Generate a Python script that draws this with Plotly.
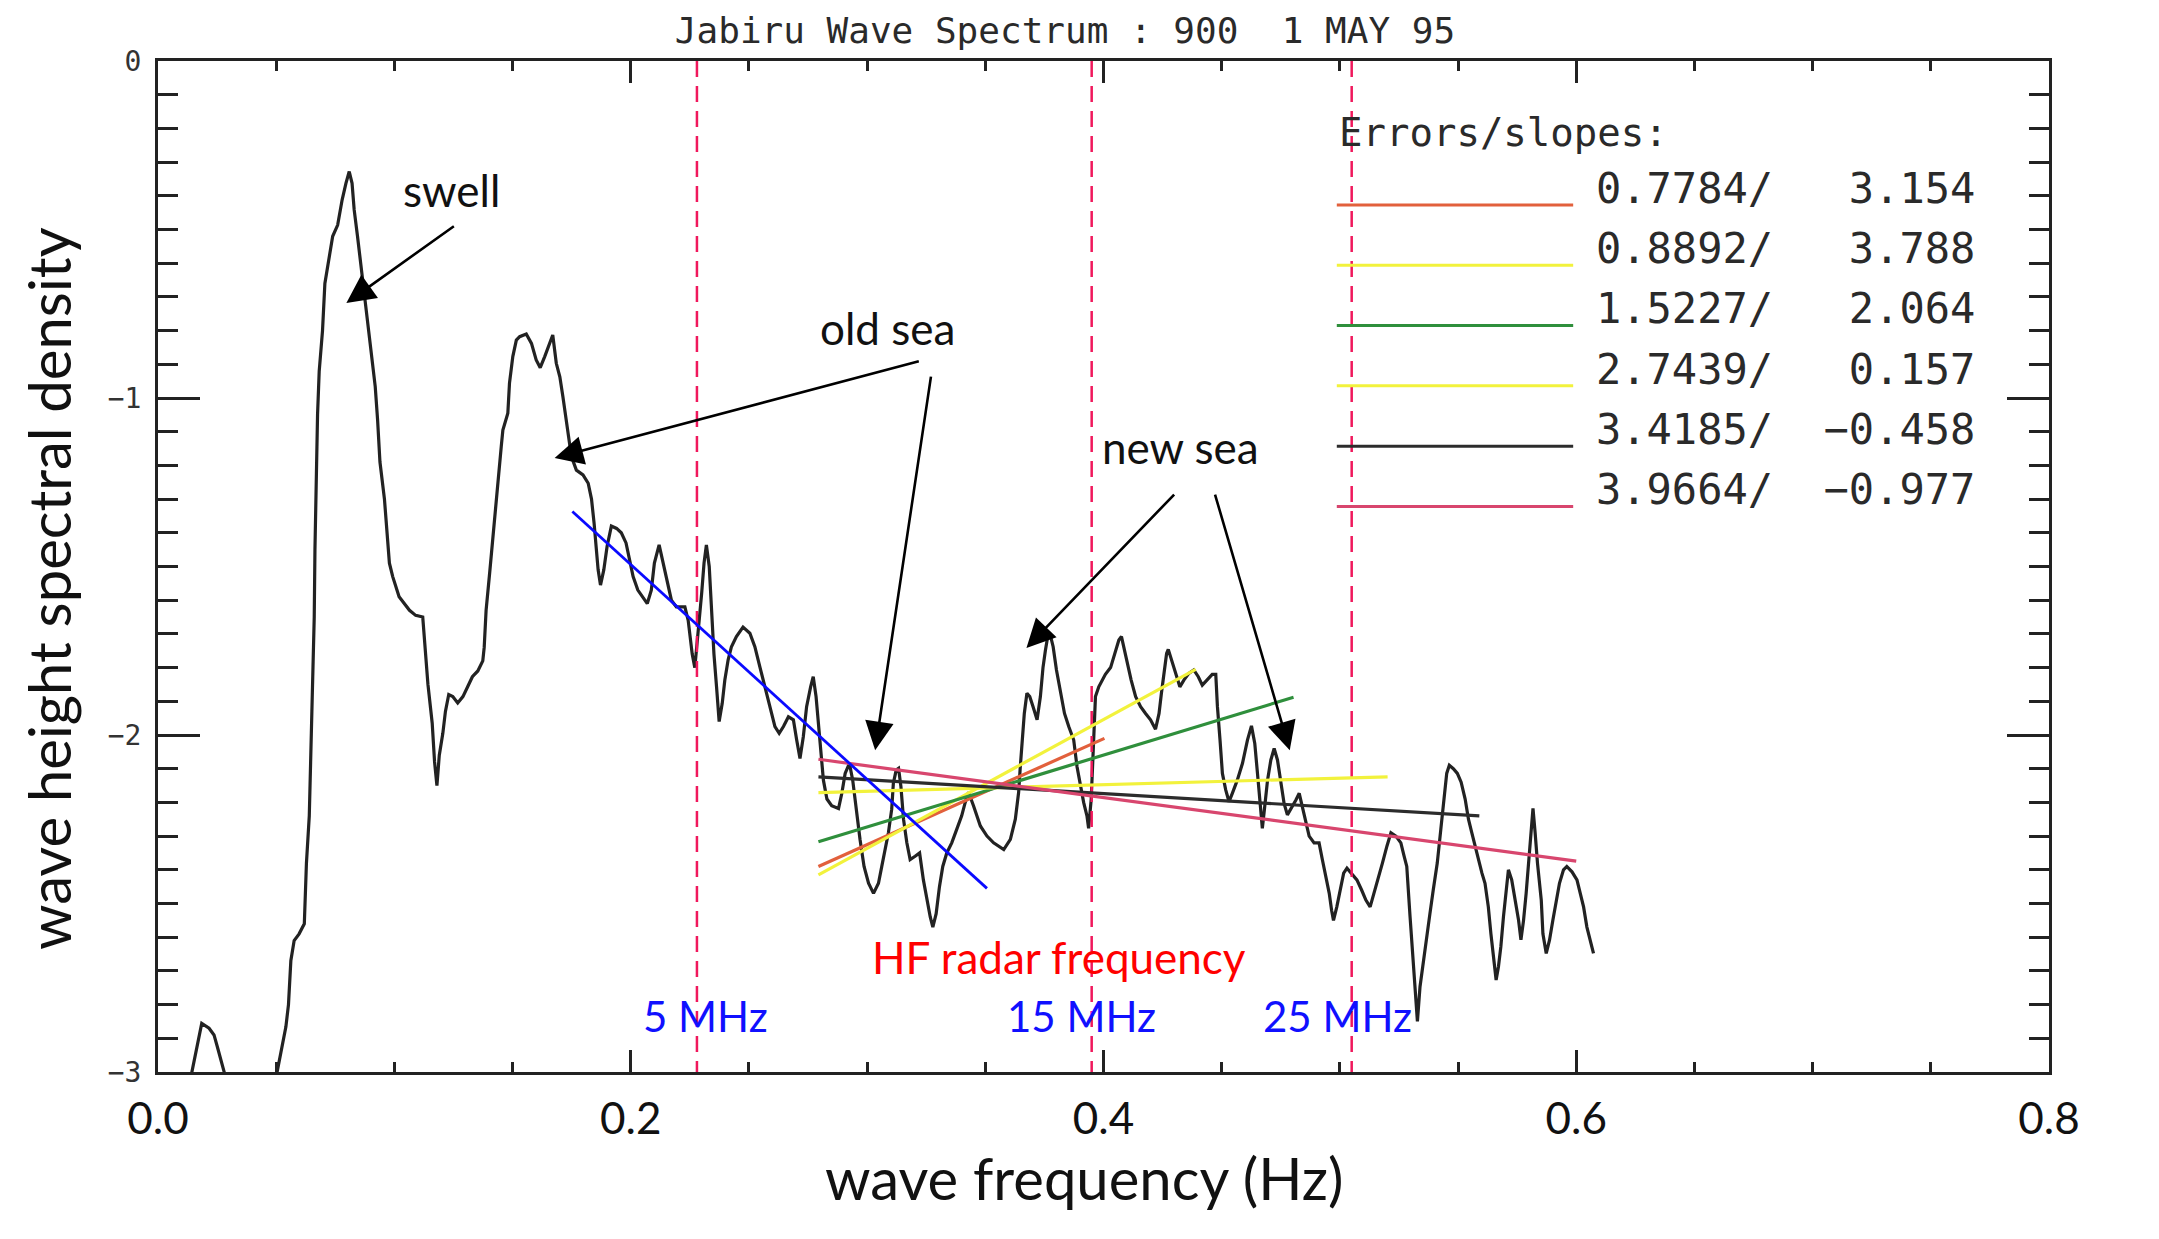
import plotly.graph_objects as go

# ---------------- data ----------------
freq = [0.010, 0.0146, 0.0168, 0.0185, 0.0216, 0.0237, 0.0251, 0.0265, 0.028, 0.032, 0.045, 0.049,
        0.0506, 0.0524, 0.0541, 0.0552, 0.0562, 0.0576, 0.0597, 0.0619, 0.0628, 0.0640, 0.0647, 0.0654,
        0.0661, 0.0664, 0.0668, 0.0675, 0.0682, 0.0696, 0.0706, 0.0725, 0.0739, 0.0760, 0.0779, 0.0795,
        0.0809, 0.0821, 0.0830, 0.0844, 0.0859, 0.0873, 0.0887, 0.0901, 0.0919, 0.0929, 0.0939, 0.0958,
        0.0972, 0.0979, 0.0993, 0.1020, 0.1064, 0.1090, 0.1120, 0.1127, 0.1142, 0.1160, 0.1170, 0.1180,
        0.1190, 0.1205, 0.1216, 0.1230, 0.1247, 0.1268, 0.1290, 0.1310, 0.1330, 0.1353, 0.1374, 0.1380,
        0.1388, 0.1403, 0.1417, 0.1430, 0.1442, 0.1452, 0.1459, 0.1480, 0.1487, 0.1501, 0.1516, 0.1530,
        0.1558, 0.1580, 0.1600, 0.1617, 0.1636, 0.1657, 0.1670, 0.1685, 0.1700, 0.1713, 0.1725, 0.1735,
        0.1749, 0.1770, 0.1798, 0.1820, 0.1834, 0.1845, 0.1855, 0.1862, 0.1872, 0.1886, 0.1900, 0.1918,
        0.1940, 0.1960, 0.1980, 0.1996, 0.2010, 0.2030, 0.2050, 0.2070, 0.2087, 0.2100, 0.2120, 0.2137,
        0.2151, 0.2172, 0.2193, 0.2229, 0.2243, 0.2250, 0.2260, 0.2271, 0.2278, 0.2290, 0.2300, 0.2310,
        0.2320, 0.2332, 0.2342, 0.2352, 0.2363, 0.2374, 0.2387, 0.2398, 0.2412, 0.2426, 0.2447, 0.2475,
        0.2504, 0.2525, 0.2547, 0.2568, 0.2589, 0.2610, 0.2628, 0.2646, 0.2667, 0.2688, 0.2702, 0.2716,
        0.2730, 0.2744, 0.2761, 0.2772, 0.2784, 0.2794, 0.2804, 0.2815, 0.2830, 0.2850, 0.2879, 0.2893,
        0.2907, 0.2925, 0.2939, 0.2956, 0.2970, 0.2987, 0.3006, 0.3027, 0.3048, 0.3062, 0.3076, 0.3090,
        0.3104, 0.3111, 0.3123, 0.3133, 0.3143, 0.3154, 0.3168, 0.3182, 0.3203, 0.3222, 0.3238, 0.3253,
        0.3267, 0.3278, 0.3292, 0.3306, 0.3320, 0.3337, 0.3358, 0.3379, 0.3400, 0.3415, 0.3429, 0.3450,
        0.3479, 0.3507, 0.3535, 0.3578, 0.3606, 0.3627, 0.3641, 0.3648, 0.3655, 0.3665, 0.3676, 0.3688,
        0.3702, 0.3719, 0.3733, 0.3744, 0.3754, 0.3764, 0.3773, 0.3787, 0.3801, 0.3818, 0.3835, 0.3853,
        0.3874, 0.3888, 0.3902, 0.3916, 0.3930, 0.3937, 0.3948, 0.3956, 0.3966, 0.3980, 0.3994, 0.4008,
        0.4030, 0.4051, 0.4065, 0.4076, 0.4089, 0.4103, 0.4117, 0.4136, 0.4157, 0.4178, 0.4199, 0.4220,
        0.4235, 0.4245, 0.4256, 0.4267, 0.4274, 0.4287, 0.4305, 0.4323, 0.4340, 0.4361, 0.4382, 0.4401,
        0.4418, 0.4439, 0.4460, 0.4475, 0.4482, 0.4493, 0.4503, 0.4517, 0.4531, 0.4545, 0.4566, 0.4588,
        0.4609, 0.4626, 0.4640, 0.4654, 0.4665, 0.4672, 0.4682, 0.4694, 0.4708, 0.4722, 0.4736, 0.4750,
        0.4764, 0.4778, 0.4795, 0.4814, 0.4828, 0.4842, 0.4856, 0.4870, 0.4891, 0.4912, 0.4926, 0.4941,
        0.4955, 0.4965, 0.4973, 0.4987, 0.5001, 0.5016, 0.5030, 0.5049, 0.5072, 0.5092, 0.5110, 0.5128,
        0.5145, 0.5162, 0.5180, 0.5199, 0.5216, 0.5237, 0.5258, 0.5272, 0.5283, 0.5297, 0.5311, 0.5322,
        0.5328, 0.5339, 0.5353, 0.5367, 0.5381, 0.5395, 0.5412, 0.5427, 0.5441, 0.5452, 0.5463, 0.5480,
        0.5497, 0.5513, 0.5530, 0.5544, 0.5558, 0.5572, 0.5586, 0.5601, 0.5614, 0.5628, 0.5639, 0.5650,
        0.5661, 0.5671, 0.5681, 0.5692, 0.5703, 0.5713, 0.5727, 0.5742, 0.5756, 0.5766, 0.5777, 0.5788,
        0.5798, 0.5809, 0.5817, 0.5826, 0.5836, 0.5852, 0.5859, 0.5873, 0.5887, 0.5901, 0.5915, 0.5929,
        0.5946, 0.5960, 0.5982, 0.6003, 0.6017, 0.6031, 0.6045, 0.6059, 0.6073]

log_density = [-3.15, -2.99, -2.905, -2.856, -2.87, -2.89, -2.925, -2.964, -3.0, -3.15, -3.2, -3.05,
               -2.99, -2.935, -2.866, -2.80, -2.67, -2.61, -2.59, -2.56, -2.38, -2.24, -2.03, -1.85,
               -1.65, -1.45, -1.25, -1.05, -0.92, -0.80, -0.66, -0.58, -0.52, -0.487, -0.412, -0.363,
               -0.328, -0.363, -0.442, -0.52, -0.61, -0.70, -0.79, -0.877, -0.966, -1.065, -1.19, -1.30,
               -1.42, -1.49, -1.53, -1.59, -1.63, -1.645, -1.65, -1.72, -1.85, -1.965, -2.08, -2.15,
               -2.06, -1.995, -1.93, -1.88, -1.886, -1.905, -1.886, -1.857, -1.827, -1.81, -1.78, -1.74,
               -1.63, -1.52, -1.41, -1.31, -1.20, -1.145, -1.095, -1.045, -0.956, -0.877, -0.828, -0.818,
               -0.81, -0.838, -0.887, -0.91, -0.877, -0.838, -0.813, -0.897, -0.937, -0.996, -1.055, -1.105,
               -1.174, -1.214, -1.228, -1.253, -1.30, -1.372, -1.45, -1.51, -1.555, -1.51, -1.44, -1.38,
               -1.387, -1.40, -1.43, -1.49, -1.53, -1.57, -1.59, -1.61, -1.57, -1.49, -1.436, -1.49,
               -1.54, -1.60, -1.62, -1.62, -1.66, -1.71, -1.76, -1.80, -1.75, -1.66, -1.58, -1.49,
               -1.436, -1.50, -1.64, -1.76, -1.857, -1.96, -1.906, -1.837, -1.777, -1.738, -1.708, -1.68,
               -1.698, -1.738, -1.80, -1.857, -1.916, -1.975, -1.995, -1.975, -1.946, -1.955, -2.015, -2.07,
               -2.005, -1.916, -1.857, -1.827, -1.886, -1.975, -2.064, -2.134, -2.19, -2.21, -2.218, -2.173,
               -2.114, -2.084, -2.134, -2.232, -2.31, -2.39, -2.44, -2.47, -2.44, -2.39, -2.34, -2.29,
               -2.22, -2.143, -2.104, -2.099, -2.153, -2.25, -2.32, -2.37, -2.36, -2.35, -2.43, -2.49,
               -2.54, -2.57, -2.53, -2.45, -2.39, -2.35, -2.32, -2.28, -2.24, -2.20, -2.17, -2.21,
               -2.27, -2.30, -2.32, -2.34, -2.31, -2.25, -2.17, -2.094, -2.015, -1.936, -1.876, -1.886,
               -1.916, -1.955, -1.886, -1.80, -1.75, -1.708, -1.698, -1.738, -1.807, -1.876, -1.936, -1.975,
               -2.015, -2.094, -2.153, -2.20, -2.24, -2.277, -2.19, -2.035, -1.886, -1.857, -1.84, -1.82,
               -1.80, -1.75, -1.718, -1.708, -1.75, -1.80, -1.837, -1.886, -1.916, -1.936, -1.955, -1.983,
               -1.936, -1.876, -1.817, -1.758, -1.746, -1.777, -1.82, -1.857, -1.837, -1.817, -1.807, -1.827,
               -1.852, -1.837, -1.82, -1.82, -1.916, -2.015, -2.114, -2.163, -2.198, -2.173, -2.134, -2.084,
               -2.015, -1.973, -2.025, -2.134, -2.24, -2.277, -2.213, -2.134, -2.074, -2.04, -2.074, -2.134,
               -2.203, -2.237, -2.218, -2.193, -2.173, -2.213, -2.26, -2.30, -2.32, -2.32, -2.37, -2.42,
               -2.47, -2.52, -2.55, -2.51, -2.46, -2.41, -2.395, -2.41, -2.43, -2.46, -2.49, -2.51,
               -2.47, -2.43, -2.38, -2.33, -2.29, -2.30, -2.32, -2.36, -2.39, -2.54, -2.67, -2.786,
               -2.85, -2.747, -2.67, -2.60, -2.53, -2.46, -2.38, -2.28, -2.173, -2.114, -2.09, -2.10,
               -2.114, -2.14, -2.19, -2.25, -2.29, -2.33, -2.37, -2.41, -2.44, -2.51, -2.59, -2.67,
               -2.727, -2.687, -2.628, -2.54, -2.47, -2.40, -2.43, -2.49, -2.55, -2.608, -2.55, -2.47,
               -2.38, -2.29, -2.218, -2.29, -2.38, -2.49, -2.59, -2.648, -2.608, -2.55, -2.49, -2.44,
               -2.40, -2.39, -2.406, -2.43, -2.47, -2.51, -2.57, -2.608, -2.648]

# fitted lines (start / end points)
fit_errors = ["0.7784", "0.8892", "1.5227", "2.7439", "3.4185", "3.9664"]
fit_slopes = ["3.154", "3.788", "2.064", "0.157", "\u22120.458", "\u22120.977"]
fit_colors = ["#e2603c", "#f2f23c", "#2f8f3c", "#f2f23c", "#2c2c2c", "#d8466e"]
fit_f0 = [0.2794, 0.2794, 0.2794, 0.2794, 0.2794, 0.2794]
fit_v0 = [-2.39, -2.415, -2.317, -2.171, -2.124, -2.072]
fit_f1 = [0.4004, 0.439, 0.4804, 0.5202, 0.559, 0.600]
fit_v1 = [-2.01, -1.805, -1.888, -2.124, -2.24, -2.374]

blue_f = [0.1753, 0.3507]
blue_v = [-1.337, -2.455]

# Bragg frequencies for HF radar
radar_labels = ["5 MHz", "15 MHz", "25 MHz"]
bragg_freq = [0.228, 0.395, 0.505]

x_ticks = [0.0, 0.2, 0.4, 0.6, 0.8]
x_ticktext = ["0.0", "0.2", "0.4", "0.6", "0.8"]
y_ticks = [0, -1, -2, -3]

# annotations: (text, x, y) and arrows (head_x, head_y, tail_x, tail_y)
notes = [("swell", 0.1242, -0.383), ("old sea", 0.3085, -0.792), ("new sea", 0.4326, -1.145)]
arrows = [(0.0797, -0.718, 0.1258, -0.487),
          (0.1678, -1.178, 0.3225, -0.890),
          (0.3034, -2.045, 0.3271, -0.932),
          (0.3674, -1.742, 0.4305, -1.282),
          (0.4788, -2.045, 0.4470, -1.282)]

# ---------------- figure ----------------
W, H = 2159, 1239
ML, MR, MT, MB = 158, 110, 61, 167
CAL = "Lato, 'Open Sans', sans-serif"
MONO = "'DejaVu Sans Mono', monospace"

fig = go.Figure()

# spectrum
fig.add_trace(go.Scatter(x=freq, y=log_density, mode="lines",
                         line=dict(color="#222222", width=3.2), hoverinfo="skip"))

# Bragg dashed lines
for bf in bragg_freq:
    fig.add_trace(go.Scatter(x=[bf, bf], y=[0, -3], mode="lines",
                             line=dict(color="#f0185c", width=2.5, dash="16px,9px"), hoverinfo="skip"))

# fitted lines
for c, f0, v0, f1, v1 in zip(fit_colors, fit_f0, fit_v0, fit_f1, fit_v1):
    fig.add_trace(go.Scatter(x=[f0, f1], y=[v0, v1], mode="lines",
                             line=dict(color=c, width=3.2), hoverinfo="skip"))

fig.add_trace(go.Scatter(x=blue_f, y=blue_v, mode="lines",
                         line=dict(color="#0a0aff", width=2.8), hoverinfo="skip"))

annotations = []
for txt, xx, yy in notes:
    annotations.append(dict(x=xx, y=yy, xref="x", yref="y", text=txt, showarrow=False,
                            font=dict(family=CAL, size=44, color="#111")))
for hx, hy, tx, ty in arrows:
    annotations.append(dict(x=hx, y=hy, ax=tx, ay=ty, xref="x", yref="y", axref="x", ayref="y",
                            text="", showarrow=True, arrowhead=2, arrowsize=2.2, arrowwidth=2.6,
                            arrowcolor="#000"))

annotations.append(dict(x=0.381, y=-2.659, xref="x", yref="y", text="HF radar frequency",
                        showarrow=False, font=dict(family=CAL, size=44, color="#ff0000")))
label_x = [0.2318, 0.3907, 0.4992]
for lab, lx in zip(radar_labels, label_x):
    annotations.append(dict(x=lx, y=-2.834, xref="x", yref="y", text=lab, showarrow=False,
                            font=dict(family=CAL, size=42, color="#1010ff")))

# axis titles
annotations.append(dict(x=0.4897, y=-0.104, xref="paper", yref="paper", xanchor="center",
                        yanchor="middle", text="wave frequency (Hz)",
                        showarrow=False, font=dict(family=CAL, size=58, color="#111")))
annotations.append(dict(x=-0.058, y=0.478, xref="paper", yref="paper", xanchor="center",
                        yanchor="middle", text="wave height spectral density",
                        textangle=-90, showarrow=False, font=dict(family=CAL, size=58, color="#111")))

# legend block (Errors/slopes)
leg_x0, leg_x1, leg_tx = 0.4987, 0.5987, 0.6076
leg_y_first, leg_dy = -0.427, -0.179
annotations.append(dict(x=leg_x0, y=-0.211, xref="x", yref="y", xanchor="left", text="Errors/slopes:",
                        showarrow=False, font=dict(family=MONO, size=39, color="#2a2a2a")))
shapes = []
for i, (e, s, c) in enumerate(zip(fit_errors, fit_slopes, fit_colors)):
    ly = leg_y_first + i * leg_dy
    shapes.append(dict(type="line", xref="x", yref="y", x0=leg_x0, x1=leg_x1, y0=ly, y1=ly,
                       line=dict(color=c, width=3)))
    annotations.append(dict(x=leg_tx, y=ly + 0.05, xref="x", yref="y", xanchor="left",
                            text=(e + "/" + s.rjust(8)).replace(" ", "&nbsp;"), showarrow=False,
                            font=dict(family=MONO, size=42, color="#2a2a2a")))

fig.update_layout(
    width=W, height=H,
    margin=dict(l=ML, r=MR, t=MT, b=MB),
    paper_bgcolor="white", plot_bgcolor="white",
    showlegend=False,
    title=dict(text="Jabiru Wave Spectrum : 900&nbsp;&nbsp;1 MAY 95", x=1065 / W, xanchor="center",
               y=1 - 30 / H, yanchor="middle", yref="container",
               font=dict(family=MONO, size=36, color="#2a2a2a")),
    annotations=annotations, shapes=shapes,
)

fig.update_xaxes(range=[0, 0.8], tickvals=x_ticks, ticktext=x_ticktext,
                 showgrid=False, zeroline=False, showline=True, linecolor="#222", linewidth=3,
                 mirror="ticks", ticks="inside", ticklen=22, tickwidth=2.5, tickcolor="#222",
                 minor=dict(dtick=0.05, ticks="inside", ticklen=10, tickwidth=2.5, tickcolor="#222",
                            showgrid=False),
                 tickfont=dict(family=CAL, size=44, color="#111"), ticklabelstandoff=6)
fig.update_yaxes(range=[-3, 0], tickvals=y_ticks,
                 showgrid=False, zeroline=False, showline=True, linecolor="#222", linewidth=3,
                 mirror="ticks", ticks="inside", ticklen=42, tickwidth=3, tickcolor="#222",
                 minor=dict(dtick=0.1, ticks="inside", ticklen=20, tickwidth=3, tickcolor="#222",
                            showgrid=False),
                 tickfont=dict(family=MONO, size=28, color="#333"), ticklabelstandoff=8)

fig.write_html("out.html")
